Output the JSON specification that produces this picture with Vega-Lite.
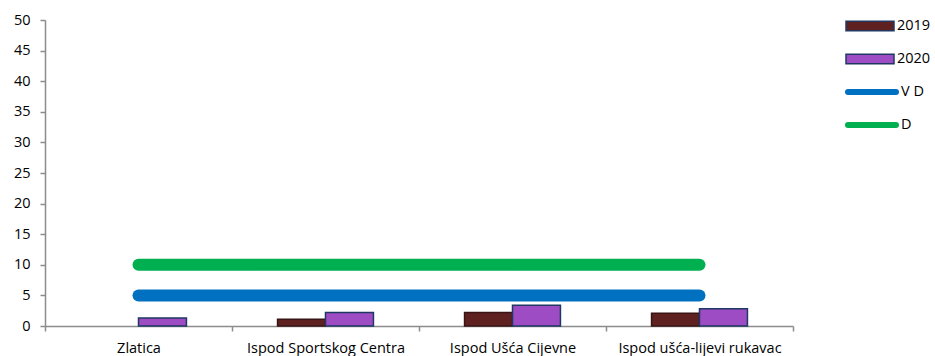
{
  "$schema": "https://vega.github.io/schema/vega-lite/v6.json",
  "width": 748,
  "height": 306,
  "autosize": "none",
  "padding": {"left": 45, "top": 20, "right": 142, "bottom": 30},
  "background": "white",
  "config": {
    "font": "Open Sans",
    "view": {"stroke": null},
    "axis": {"labelFont": "Open Sans", "labelFontSize": 14.5, "labelColor": "#000000", "domainColor": "#8c8c8c", "tickColor": "#8c8c8c", "grid": false, "title": null},
    "legend": {"labelFont": "Open Sans", "labelFontSize": 14.5, "labelColor": "#000000"}
  },
  "datasets": {
    "bars": [
      {"site": "Zlatica", "year": "2019", "value": 0},
      {"site": "Zlatica", "year": "2020", "value": 1.3},
      {"site": "Ispod Sportskog Centra", "year": "2019", "value": 1.1},
      {"site": "Ispod Sportskog Centra", "year": "2020", "value": 2.2},
      {"site": "Ispod Ušća Cijevne", "year": "2019", "value": 2.2},
      {"site": "Ispod Ušća Cijevne", "year": "2020", "value": 3.4},
      {"site": "Ispod ušća-lijevi rukavac", "year": "2019", "value": 2.1},
      {"site": "Ispod ušća-lijevi rukavac", "year": "2020", "value": 2.8}
    ],
    "lines": [
      {"site": "Zlatica", "series": "V D", "value": 5},
      {"site": "Ispod Sportskog Centra", "series": "V D", "value": 5},
      {"site": "Ispod Ušća Cijevne", "series": "V D", "value": 5},
      {"site": "Ispod ušća-lijevi rukavac", "series": "V D", "value": 5},
      {"site": "Zlatica", "series": "D", "value": 10},
      {"site": "Ispod Sportskog Centra", "series": "D", "value": 10},
      {"site": "Ispod Ušća Cijevne", "series": "D", "value": 10},
      {"site": "Ispod ušća-lijevi rukavac", "series": "D", "value": 10}
    ]
  },
  "encoding": {
    "x": {
      "field": "site", "type": "nominal",
      "sort": ["Zlatica", "Ispod Sportskog Centra", "Ispod Ušća Cijevne", "Ispod ušća-lijevi rukavac"],
      "scale": {"paddingInner": 0, "paddingOuter": 0},
      "axis": {"labelAngle": 0, "tickBand": "extent", "tickSize": 5, "labelPadding": 10, "domainWidth": 1.5, "tickWidth": 1.5}
    },
    "y": {
      "field": "value", "type": "quantitative",
      "scale": {"domain": [0, 50], "nice": false},
      "axis": {"values": [0, 5, 10, 15, 20, 25, 30, 35, 40, 45, 50], "tickSize": 5, "labelPadding": 10, "domainWidth": 1.5, "tickWidth": 1.5}
    }
  },
  "layer": [
    {
      "data": {"name": "bars"},
      "mark": {"type": "bar", "strokeWidth": 1.5},
      "encoding": {
        "xOffset": {"field": "year", "type": "nominal", "scale": {"paddingInner": 0, "paddingOuter": 0.95}},
        "fill": {
          "field": "year", "type": "nominal",
          "scale": {"domain": ["2019", "2020"], "range": ["#5e2120", "#9d4cc4"]},
          "legend": {
            "orient": "none", "legendX": 800, "legendY": -4, "title": null,
            "symbolType": "M-1,-0.2H1V0.2H-1Z", "symbolSize": 2304, "clipHeight": 20, "rowPadding": 13,
            "symbolStrokeWidth": 1.5, "labelOffset": 2,
            "symbolStrokeColor": "#1f3864"
          }
        },
        "stroke": {
          "field": "year", "type": "nominal",
          "scale": {"domain": ["2019", "2020"], "range": ["#3a1414", "#1f3864"]},
          "legend": null
        },
        "strokeOpacity": {"condition": {"test": "datum.value <= 0", "value": 0}, "value": 1}
      }
    },
    {
      "data": {"name": "lines"},
      "mark": {"type": "line", "strokeWidth": 12, "strokeCap": "round"},
      "encoding": {
        "detail": {"field": "series"},
        "stroke": {
          "field": "series", "type": "nominal",
          "scale": {"domain": ["V D", "D"], "range": ["#0070c0", "#00b050"]},
          "legend": {
            "orient": "none", "legendX": 800, "legendY": 62, "title": null,
            "symbolType": "stroke", "symbolSize": 2304, "symbolStrokeWidth": 6,
            "clipHeight": 20, "rowPadding": 13, "labelOffset": 2,
            "encode": {"symbols": {"update": {"strokeCap": {"value": "round"}}}}
          }
        }
      }
    }
  ],
  "resolve": {"scale": {"stroke": "independent"}, "legend": {"stroke": "independent"}}
}
